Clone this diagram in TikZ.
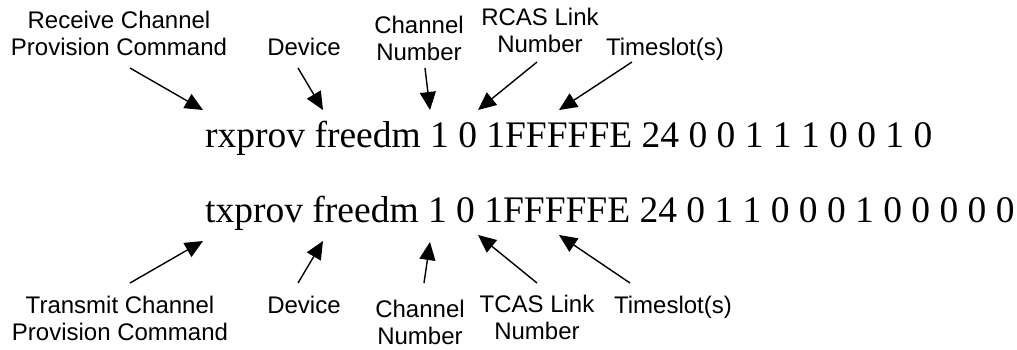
\documentclass[tikz,border=0pt]{standalone}
\usepackage{fontspec}
\setmainfont{Liberation Serif}
\newfontfamily\arial{Liberation Sans}
\usetikzlibrary{arrows.meta}
\begin{document}
\begin{tikzpicture}[x=1pt, y=-1pt,
  cmdline/.style={font=\fontsize{37.5}{40}\selectfont, inner sep=0pt, anchor=base west},
  fieldlbl/.style={font=\arial\fontsize{24}{27}\selectfont, align=center, inner sep=0pt, anchor=base},
  pointer/.style={line width=1.4pt, -{Triangle[length=18pt, width=16pt]}}]
\useasboundingbox (0,0) rectangle (1017,349);

% the two provisioning commands
\node[cmdline] (rx) at (205,147) {rxprov freedm 1 0 1FFFFFE 24 0 0 1 1 1 0 0 1 0};
\node[cmdline] (tx) at (205,222) {txprov freedm 1 0 1FFFFFE 24 0 1 1 0 0 0 1 0 0 0 0 0};

% field labels above the receive command (base = last line)
\node[fieldlbl] (rcmd)  at (119,55) {Receive Channel\\Provision Command};
\node[fieldlbl] (rdev)  at (304,55) {Device};
\node[fieldlbl] (rchan) at (419,60) {Channel\\Number};
\node[fieldlbl] (rlink) at (540,52) {RCAS Link\\Number};
\node[fieldlbl] (rslot) at (665,55) {Timeslot(s)};

% field labels below the transmit command
\node[fieldlbl] (tcmd)  at (120,340) {Transmit Channel\\Provision Command};
\node[fieldlbl] (tdev)  at (304,313) {Device};
\node[fieldlbl] (tchan) at (420,344) {Channel\\Number};
\node[fieldlbl] (tlink) at (537,339) {TCAS Link\\Number};
\node[fieldlbl] (tslot) at (673,313) {Timeslot(s)};

% pointer ends for the receive command
\coordinate (rcmdS)  at (130,68);  \coordinate (rcmdE)  at (203,110);
\coordinate (rdevS)  at (298,68);  \coordinate (rdevE)  at (323,110);
\coordinate (rchanS) at (425,68);  \coordinate (rchanE) at (430,110);
\coordinate (rlinkS) at (537,62);  \coordinate (rlinkE) at (478,110);
\coordinate (rslotS) at (632,62);  \coordinate (rslotE) at (559,110);

% pointer ends for the transmit command
\coordinate (tcmdS)  at (130,283); \coordinate (tcmdE)  at (203,241);
\coordinate (tdevS)  at (298,283); \coordinate (tdevE)  at (323,241);
\coordinate (tchanS) at (424,283); \coordinate (tchanE) at (430,242);
\coordinate (tlinkS) at (537,283); \coordinate (tlinkE) at (478,235);
\coordinate (tslotS) at (630,283); \coordinate (tslotE) at (559,235);

\foreach \p in {rcmd, rdev, rchan, rlink, rslot, tcmd, tdev, tchan, tlink, tslot}
  \draw[pointer] (\p S) -- (\p E);
\end{tikzpicture}
\end{document}
